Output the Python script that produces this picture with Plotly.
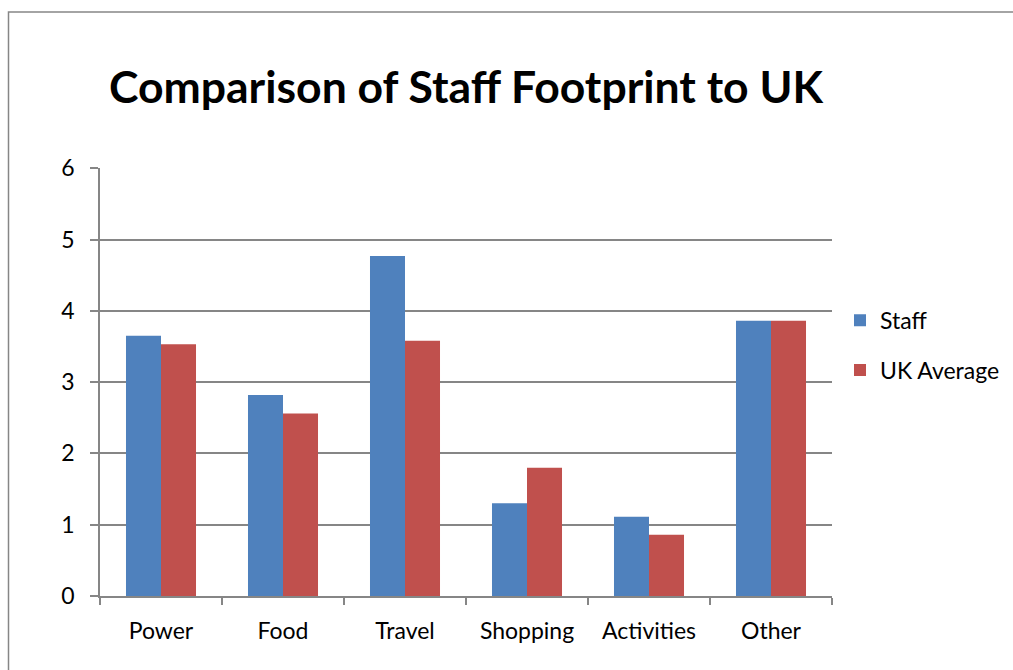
import plotly.graph_objects as go

# Footprint categories and the two compared series
categories = ["Power", "Food", "Travel", "Shopping", "Activities", "Other"]
staff_values = [3.65, 2.82, 4.77, 1.30, 1.11, 3.86]
uk_average_values = [3.53, 2.56, 3.58, 1.80, 0.86, 3.86]
y_ticks = [0, 1, 2, 3, 4, 5, 6]

FONT = "Lato"
GRID = "#868686"

fig = go.Figure()
fig.add_trace(go.Bar(name="Staff", x=categories, y=staff_values,
                     marker=dict(color="#4F81BD", line=dict(width=0)),
                     legendgroup="staff"))
fig.add_trace(go.Bar(name="UK Average", x=categories, y=uk_average_values,
                     marker=dict(color="#C0504D", line=dict(width=0)),
                     legendgroup="uk"))

fig.update_layout(
    width=1013, height=670,
    margin=dict(l=100, r=181, t=168, b=74, autoexpand=False),
    paper_bgcolor="white", plot_bgcolor="white",
    barmode="group", bargap=0.426, bargroupgap=0,
    font=dict(family=FONT, size=23, color="black"),
    title=dict(text="<b>Comparison of Staff Footprint to UK</b>",
               font=dict(family=FONT, size=44.5, color="black"),
               x=0.5, xref="paper", xanchor="center",
               y=1 - 87 / 670, yref="container", yanchor="middle"),
    legend=dict(x=840 / 1013, xref="container", xanchor="left",
                y=0.586, yanchor="middle",
                font=dict(family=FONT, size=23), tracegroupgap=17,
                bgcolor="rgba(0,0,0,0)"),
    showlegend=True,
)

fig.update_xaxes(
    showgrid=False, showline=True, linecolor=GRID, linewidth=1.5,
    ticks="outside", tickson="boundaries", ticklen=7, tickcolor=GRID, tickwidth=1.5,
    tickfont=dict(family=FONT, size=23), ticklabelstandoff=14, fixedrange=True,
)
fig.update_yaxes(
    range=[0, 6.004], tickvals=y_ticks, showgrid=True, gridcolor=GRID, gridwidth=1.5,
    showline=True, linecolor=GRID, linewidth=1.5, zeroline=False,
    ticks="outside", ticklen=8, tickcolor=GRID, tickwidth=1.5,
    tickfont=dict(family=FONT, size=23), ticklabelstandoff=11, fixedrange=True,
)

# Chart-area frame
fig.add_shape(type="rect", xref="paper", yref="paper",
              x0=-0.125, y0=-0.4, x1=1.4, y1=1.3645,
              line=dict(color=GRID, width=1.5), fillcolor="rgba(0,0,0,0)",
              layer="below")

fig.write_html("out.html")
